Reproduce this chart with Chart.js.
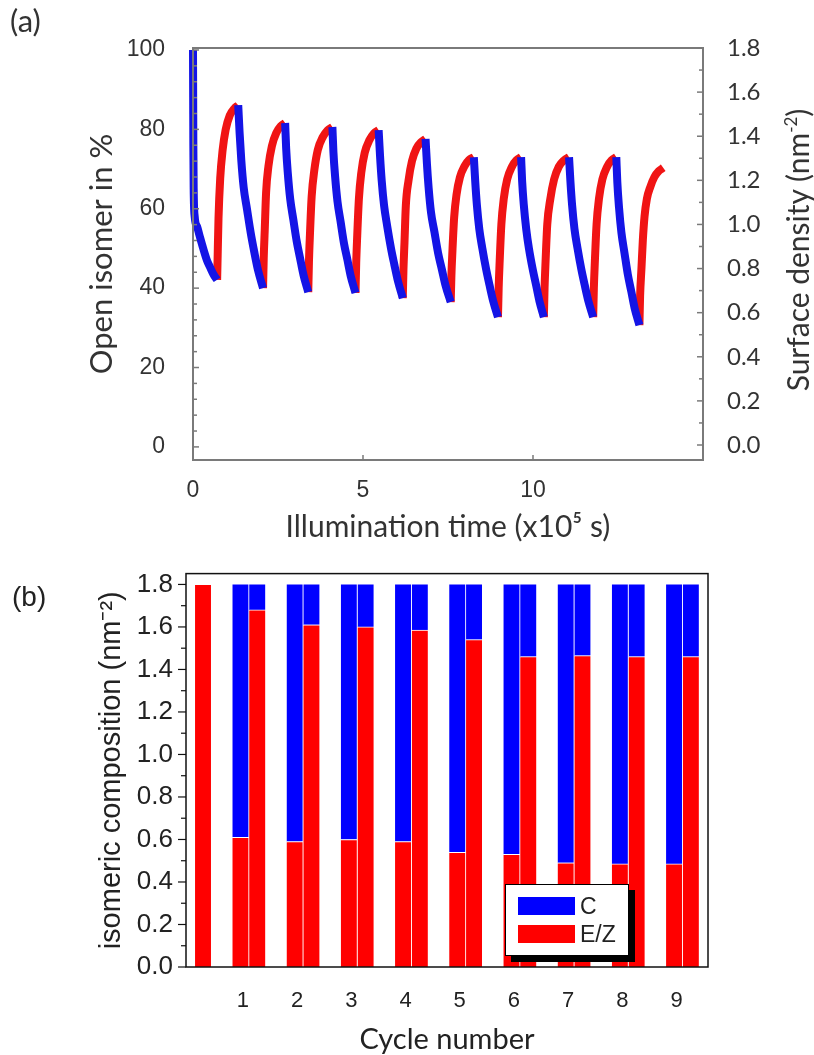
<!DOCTYPE html>
<html>
<head>
<meta charset="utf-8">
<script src="https://cdn.jsdelivr.net/npm/chart.js@4.4.1/dist/chart.umd.min.js"></script>
<style>
  html, body { margin: 0; padding: 0; background: #fff; overflow: hidden; }
  #wrap { position: relative; width: 814px; height: 1055px; }
  #chartA { position: absolute; left: 0; top: 0; }
  #chartB { position: absolute; left: 0; top: 545px; }
  .tag { position: absolute; white-space: nowrap; }
  #tagA { left: 10px; top: 4px; font: 31px/32px Lato, sans-serif; color: #333; }
  #tagB { left: 12px; top: 580px; font: 28px/34px "Liberation Sans", Arial, sans-serif; color: #222; }
  #rightTitle { left: 597px; top: 230px; width: 400px; height: 40px; line-height: 40px; text-align: center;
    font-family: Lato, sans-serif; font-size: 30px; color: #333; transform: rotate(-90deg); }
  #rightTitle sup { font-size: 17px; vertical-align: 12px; line-height: 0; }
  #legend { position: absolute; left: 505px; top: 884px; width: 122px; height: 70px; background: #fff;
    border: 1.5px solid #000; box-shadow: 6px 6px 0 #000; font: 23px "Liberation Sans", Arial, sans-serif; color: #222; }
  #legend .item { position: absolute; left: 12px; height: 20px; }
  #legend .sw { position: absolute; left: 0; top: 0; width: 57px; height: 18px; }
  #legend .txt { position: absolute; left: 62px; top: -4px; line-height: 26px; }
</style>
</head>
<body>
<div id="wrap">
  <canvas id="chartA" width="814" height="545"></canvas>
  <canvas id="chartB" width="814" height="512"></canvas>
  <div class="tag" id="tagA">(a)</div>
  <div class="tag" id="tagB">(b)</div>
  <div class="tag" id="rightTitle">Surface density (nm<sup>-2</sup>)</div>
  <div id="legend"></div>
</div>
<script>
// (a) open isomer vs illumination time, [time x1e5 s, % open]
// UV runs (open -> closed, blue) and visible runs (back to open, red)
const uvRuns = [
  [[0,100],[0.005,88],[0.01,76],[0.02,65],[0.05,58],[0.12,55.5],[0.2,53],[0.3,50],[0.41,47],[0.5,45.3],[0.6,43.5],[0.71,42.1]],
  [[1.33,86.1],[1.37,79.2],[1.42,72.3],[1.49,65.4],[1.59,59.8],[1.70,53.8],[1.80,49.2],[1.91,44.6],[2.06,40.0]],
  [[2.71,81.6],[2.74,75.2],[2.79,68.8],[2.86,62.4],[2.95,57.3],[3.05,51.8],[3.15,47.5],[3.25,43.3],[3.39,39.0]],
  [[4.10,80.6],[4.13,74.3],[4.18,68.1],[4.25,61.8],[4.34,56.8],[4.44,51.3],[4.54,47.2],[4.64,43.0],[4.78,38.8]],
  [[5.46,79.8],[5.50,73.5],[5.55,67.1],[5.62,60.8],[5.71,55.7],[5.82,50.2],[5.92,46.0],[6.03,41.7],[6.17,37.5]],
  [[6.84,77.6],[6.88,71.4],[6.93,65.3],[7.00,59.1],[7.10,54.2],[7.21,48.8],[7.32,44.7],[7.43,40.6],[7.58,36.5]],
  [[8.26,73.0],[8.30,67.0],[8.35,60.9],[8.42,54.9],[8.51,50.0],[8.62,44.8],[8.72,40.8],[8.83,36.7],[8.97,32.7]],
  [[9.65,73.0],[9.68,67.0],[9.73,60.9],[9.80,54.9],[9.88,50.0],[9.99,44.8],[10.09,40.8],[10.19,36.7],[10.32,32.7]],
  [[11.06,73.0],[11.10,67.0],[11.15,60.9],[11.22,54.9],[11.31,50.0],[11.42,44.8],[11.52,40.8],[11.63,36.7],[11.77,32.7]],
  [[12.45,73.0],[12.48,66.7],[12.53,60.3],[12.60,54.0],[12.69,48.9],[12.79,43.4],[12.89,39.2],[12.99,34.9],[13.13,30.7]]
];
const visRuns = [
  [[0.71,42.1],[0.73,50.0],[0.75,57.5],[0.80,67.6],[0.87,74.7],[0.96,79.9],[1.08,83.5],[1.21,85.2],[1.33,86.1]],
  [[2.06,40.0],[2.08,47.5],[2.11,54.6],[2.15,64.1],[2.22,70.8],[2.32,75.8],[2.45,79.1],[2.58,80.8],[2.71,81.6]],
  [[3.39,39.0],[3.41,46.5],[3.44,53.6],[3.49,63.1],[3.57,69.8],[3.67,74.8],[3.82,78.1],[3.96,79.8],[4.10,80.6]],
  [[4.78,38.8],[4.80,46.2],[4.83,53.2],[4.88,62.6],[4.95,69.1],[5.05,74.1],[5.19,77.3],[5.32,79.0],[5.46,79.8]],
  [[6.17,37.5],[6.19,44.7],[6.22,51.5],[6.26,60.8],[6.34,67.2],[6.44,72.0],[6.57,75.2],[6.71,76.8],[6.84,77.6]],
  [[7.58,36.5],[7.60,43.1],[7.63,49.3],[7.68,57.7],[7.75,63.5],[7.85,67.9],[7.99,70.8],[8.12,72.3],[8.26,73.0]],
  [[8.97,32.7],[8.99,40.0],[9.02,46.8],[9.07,56.1],[9.14,62.5],[9.24,67.4],[9.38,70.6],[9.51,72.2],[9.65,73.0]],
  [[10.32,32.7],[10.34,40.0],[10.37,46.8],[10.42,56.1],[10.51,62.5],[10.62,67.4],[10.76,70.6],[10.91,72.2],[11.06,73.0]],
  [[11.77,32.7],[11.79,40.0],[11.82,46.8],[11.87,56.1],[11.94,62.5],[12.04,67.4],[12.18,70.6],[12.31,72.2],[12.45,73.0]],
  [[13.13,30.7],[13.15,38.0],[13.19,45.0],[13.23,52.0],[13.28,58.0],[13.35,62.5],[13.45,65.5],[13.57,68.0],[13.70,69.5],[13.83,70.3]]
];
const timeTicks = [0, 5, 10];
const openTicks = [0, 20, 40, 60, 80, 100];
const densityTicks = [0, 0.2, 0.4, 0.6, 0.8, 1.0, 1.2, 1.4, 1.6, 1.8];

// (b) isomeric composition per cycle (nm^-2)
const cycles = [1, 2, 3, 4, 5, 6, 7, 8, 9];
const initialEZ = 1.8;
const ezAfterUV = [0.61, 0.59, 0.60, 0.59, 0.54, 0.53, 0.49, 0.485, 0.485];
const cAfterUV = [1.19, 1.21, 1.20, 1.21, 1.26, 1.27, 1.31, 1.315, 1.315];
const ezAfterVis = [1.68, 1.61, 1.60, 1.585, 1.54, 1.46, 1.465, 1.46, 1.46];
const cAfterVis = [0.12, 0.19, 0.20, 0.215, 0.26, 0.34, 0.335, 0.34, 0.34];
const compTicks = [0, 0.2, 0.4, 0.6, 0.8, 1.0, 1.2, 1.4, 1.6, 1.8];

function joinRuns(runs) {
  const out = [];
  runs.forEach((run, i) => {
    if (i) out.push({ x: run[0][0], y: null });
    run.forEach(p => out.push({ x: p[0], y: p[1] }));
  });
  return out;
}

// draws the box round the plot and the small tick marks
const frameTicks = {
  id: 'frameTicks',
  afterDraw(chart, args, opts) {
    const { ctx, chartArea: a } = chart;
    ctx.save();
    ctx.strokeStyle = opts.color;
    ctx.lineWidth = opts.width;
    ctx.strokeRect(a.left, a.top, a.right - a.left, a.bottom - a.top);
    ctx.lineWidth = opts.tickWidth;
    (opts.marks || []).forEach(m => {
      const s = chart.scales[m.scale];
      const n = Math.round((m.to - m.from) / m.step);
      for (let i = 0; i <= n; i++) {
        const v = m.from + i * m.step;
        const r = v / m.major;
        const len = Math.abs(r - Math.round(r)) < 1e-6 ? m.majorLen : m.minorLen;
        const p = s.getPixelForValue(v);
        ctx.beginPath();
        if (s.isHorizontal()) {
          ctx.moveTo(p, a.bottom);
          ctx.lineTo(p, a.bottom + m.dir * len);
        } else {
          const x0 = s.position === 'left' ? a.left : a.right;
          ctx.moveTo(x0, p);
          ctx.lineTo(x0 + m.dir * len, p);
        }
        ctx.stroke();
      }
    });
    ctx.restore();
  }
};

const arial = 'Liberation Sans, Arial, sans-serif';
const calibri = 'Lato, sans-serif';

const chartA = new Chart(document.getElementById('chartA'), {
  type: 'line',
  data: {
    datasets: [
      { label: 'UV', data: joinRuns(uvRuns), borderColor: '#1414e6', borderWidth: 8,
        pointRadius: 0, cubicInterpolationMode: 'monotone', spanGaps: false, clip: false },
      { label: 'Vis', data: joinRuns(visRuns), borderColor: '#f01414', borderWidth: 8,
        pointRadius: 0, cubicInterpolationMode: 'monotone', spanGaps: false, clip: false }
    ]
  },
  options: {
    responsive: false,
    animation: false,
    devicePixelRatio: 1,
    layout: { padding: { left: 83, top: 48, right: 0, bottom: 0 } },
    plugins: {
      legend: { display: false },
      tooltip: { enabled: false },
      frameTicks: {
        color: '#7a7a7a', width: 2, tickWidth: 1.5,
        marks: [
          { scale: 'y', from: 0, to: 100, step: 4, major: 20, majorLen: 6, minorLen: 4, dir: 1 },
          { scale: 'y2', from: 0, to: 1.8, step: 0.1, major: 0.2, majorLen: 6, minorLen: 4, dir: -1 },
          { scale: 'x', from: 5, to: 10, step: 5, major: 5, majorLen: 5, minorLen: 5, dir: -1 }
        ]
      }
    },
    scales: {
      x: {
        type: 'linear', min: 0, max: 15,
        grid: { display: false, drawTicks: false }, border: { display: false },
        afterBuildTicks: s => { s.ticks = timeTicks.map(v => ({ value: v })); },
        ticks: { padding: 17, color: '#333', maxRotation: 0, font: { family: arial, size: 23 } },
        title: { display: true, text: 'Illumination time (x10⁵ s)', color: '#333', padding: 0,
          font: { family: calibri, size: 30 } },
        afterFit: s => { s.height = 85; }
      },
      y: {
        position: 'left', min: -3.3, max: 100.5,
        grid: { display: false, drawTicks: false }, border: { display: false },
        afterBuildTicks: s => { s.ticks = openTicks.map(v => ({ value: v })); },
        ticks: { padding: 28, color: '#333', font: { family: arial, size: 23 } },
        title: { display: true, text: 'Open isomer in %', color: '#333', padding: 0,
          font: { family: calibri, size: 31 } },
        afterFit: s => { s.width = 110; }
      },
      y2: {
        position: 'right', min: -0.068, max: 1.8,
        grid: { display: false, drawTicks: false }, border: { display: false },
        afterBuildTicks: s => { s.ticks = densityTicks.map(v => ({ value: v })); },
        ticks: { padding: 24, color: '#333', font: { family: calibri, size: 24 },
          callback: v => v.toFixed(1) },
        afterFit: s => { s.width = 111; }
      }
    }
  },
  plugins: [frameTicks]
});

// bar positions: after UV slightly left of the cycle tick, after Vis right next to it
const uvOffset = -0.04, visOffset = 0.27;
const ezData = [{ x: visOffset, y: initialEZ }];
const cData = [];
cycles.forEach((k, i) => {
  ezData.push({ x: k + uvOffset, y: ezAfterUV[i] }, { x: k + visOffset, y: ezAfterVis[i] });
  cData.push({ x: k + uvOffset, y: cAfterUV[i] }, { x: k + visOffset, y: cAfterVis[i] });
});

const chartB = new Chart(document.getElementById('chartB'), {
  type: 'bar',
  data: {
    datasets: [
      { label: 'E/Z', data: ezData, backgroundColor: '#ff0000', borderColor: '#ffffff',
        borderWidth: { top: 1, right: 1, left: 0, bottom: 0 }, borderSkipped: false, barThickness: 16.6 },
      { label: 'C', data: cData, backgroundColor: '#0000ff', borderColor: '#ffffff',
        borderWidth: { top: 0, right: 1, left: 0, bottom: 0 }, borderSkipped: false, barThickness: 16.6 }
    ]
  },
  options: {
    responsive: false,
    animation: false,
    devicePixelRatio: 1,
    layout: { padding: { left: 95, top: 26, right: 106, bottom: 0 } },
    plugins: {
      legend: { display: false },
      tooltip: { enabled: false },
      frameTicks: {
        color: '#111', width: 1.5, tickWidth: 1.2,
        marks: [
          { scale: 'y', from: 0, to: 1.8, step: 0.1, major: 0.2, majorLen: 8, minorLen: 5, dir: -1 }
        ]
      }
    },
    scales: {
      x: {
        type: 'linear', stacked: true, min: -0.05, max: 9.58, offset: false,
        grid: { display: false, drawTicks: false }, border: { display: false },
        afterBuildTicks: s => { s.ticks = cycles.map(v => ({ value: v })); },
        ticks: { padding: 21, color: '#222', maxRotation: 0, font: { family: arial, size: 22 } },
        title: { display: true, text: 'Cycle number', color: '#222', padding: 0,
          font: { family: calibri, size: 29 } },
        afterFit: s => { s.height = 90; }
      },
      y: {
        stacked: true, min: 0, max: 1.851,
        grid: { display: false, drawTicks: false }, border: { display: false },
        afterBuildTicks: s => { s.ticks = compTicks.map(v => ({ value: v })); },
        ticks: { padding: 13, color: '#222', font: { family: arial, size: 26 },
          callback: v => v.toFixed(1) },
        title: { display: true, text: 'isomeric composition (nm⁻²)', color: '#222', padding: 0,
          font: { family: arial, size: 29 } },
        afterFit: s => { s.width = 91; }
      }
    }
  },
  plugins: [frameTicks]
});

// legend box, C listed first as in the figure
const legendBox = document.getElementById('legend');
[...chartB.data.datasets].reverse().forEach((ds, i) => {
  const item = document.createElement('div');
  item.className = 'item';
  item.style.top = (12 + i * 28) + 'px';
  item.innerHTML = '<span class="sw" style="background:' + ds.backgroundColor + '"></span>' +
    '<span class="txt">' + ds.label + '</span>';
  legendBox.appendChild(item);
});
</script>
</body>
</html>
